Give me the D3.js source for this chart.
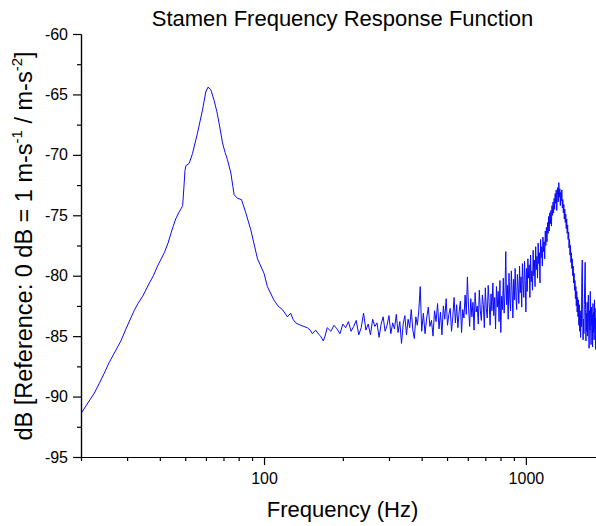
<!DOCTYPE html>
<html lang="en">
<head>
    <meta charset="UTF-8">
    <title>Stamen Frequency Response Function</title>
    <script src="https://cdnjs.cloudflare.com/ajax/libs/d3/7.8.5/d3.min.js"></script>
    <style>
        body { margin: 0; background: #fff; }
        svg text { font-family: "Liberation Sans", Arial, sans-serif; fill: #000; }
    </style>
</head>
<body>
    <svg width="596" height="526"></svg>
    <script>
        "use strict";

        // smooth part: the stamen resonance
        const lowFreq = [20, 21, 22.5, 23.5, 24.5, 25.6, 26.8, 28.4, 29.7, 31, 31.9, 33, 34.4, 36.5, 37.8, 39.2, 41.6, 43, 44.1, 45,
            46, 47.2, 48.1, 48.9, 49.5, 49.9, 50.3, 51.8, 53.3, 55.7, 58.2, 59.9, 61.1, 62.6, 64.5, 66, 67.4, 69.4, 71, 72.5,
            74.7, 76, 76.9, 79.2, 82, 85.2, 89, 94.4, 100, 103, 109, 113, 117.5, 122.8, 126.4, 129, 132, 138, 142, 146.3,
            150, 153, 157.5, 161, 164.5, 168.4, 171, 174.3];
        const lowDb = [-91.4, -90.7, -89.7, -88.9, -88.1, -87.2, -86.4, -85.4, -84.4, -83.5, -82.9, -82.3, -81.7, -80.6, -80.0, -79.2, -78.1, -77.3, -76.5, -75.9,
            -75.3, -74.8, -74.5, -74.2, -72.5, -71.3, -70.9, -70.7, -69.9, -68.2, -66.3, -64.8, -64.4, -64.6, -65.5, -66.4, -67.4, -69.0, -69.8, -70.4,
            -71.5, -72.6, -73.3, -73.6, -73.7, -74.8, -76.2, -78.6, -79.8, -80.9, -82.0, -82.5, -82.8, -83.4, -83.1, -83.6, -83.9, -84.1, -84.2, -84.3,
            -84.5, -84.8, -84.5, -84.8, -85.0, -85.4, -85.0, -84.3];

        // noisy floor, 180-400 Hz
        const floorFreq = [180, 185, 190, 195, 200, 205, 210, 215, 220, 225, 230, 235, 240, 245, 250, 255, 260, 265, 270, 275,
            280, 285, 290, 295, 300, 305, 310, 315, 320, 325, 330, 335, 340, 345, 350, 355, 360, 365, 370, 375,
            380, 385, 390, 395, 400];
        const floorDb = [-84.6, -84.1, -84.4, -84.8, -84.0, -84.3, -83.8, -84.6, -84.2, -83.7, -84.9, -84.3, -83.1, -84.5, -84.0, -84.9, -83.6, -84.2, -83.9, -85.1,
            -84.0, -83.4, -84.6, -84.1, -83.3, -84.8, -83.9, -84.4, -83.2, -84.7, -83.8, -85.6, -84.0, -83.3, -84.9, -83.6, -84.3, -82.8, -84.5, -85.2,
            -83.4, -84.1, -82.9, -80.9, -84.6];

        // rising floor, 406-1000 Hz
        const midFreq = [406, 412, 418, 424, 430, 436, 442, 448, 454, 460, 466, 472, 478, 484, 490, 496, 502, 508, 514, 520,
            526, 532, 538, 544, 550, 556, 562, 568, 574, 580, 586, 592, 598, 604, 610, 616, 622, 628, 634, 640,
            646, 652, 658, 664, 670, 676, 682, 688, 694, 700, 706, 712, 718, 724, 730, 736, 742, 748, 754, 760,
            766, 772, 778, 784, 790, 796, 802, 808, 814, 820, 826, 832, 838, 844, 850, 856, 862, 868, 874, 880,
            886, 892, 898, 904, 910, 916, 922, 928, 934, 940, 946, 952, 958, 964, 970, 976, 982, 988, 994, 1000];
        const midDb = [-83.1, -84.8, -83.5, -82.6, -84.2, -83.7, -85.0, -82.9, -83.8, -82.3, -84.4, -83.0, -84.9, -82.5, -83.6, -81.9, -84.1, -83.2, -82.7, -84.6,
            -83.4, -81.8, -83.9, -82.4, -84.3, -83.0, -82.1, -84.7, -82.8, -83.5, -81.6, -83.2, -80.1, -82.6, -84.2, -81.9, -83.4, -82.2, -84.5, -81.4,
            -83.0, -82.5, -84.0, -81.2, -82.9, -83.7, -81.6, -82.4, -84.3, -81.0, -82.7, -83.5, -80.8, -82.2, -84.1, -81.5, -82.9, -80.6, -83.3, -81.8,
            -84.4, -80.9, -82.6, -81.3, -83.8, -80.4, -84.7, -81.7, -82.8, -80.2, -83.1, -81.5, -78.0, -82.4, -80.8, -83.6, -79.8, -81.9, -82.9, -79.6,
            -81.2, -83.5, -80.3, -82.0, -79.4, -81.6, -82.8, -79.9, -80.9, -82.3, -79.2, -81.4, -80.1, -82.6, -79.0, -80.7, -81.8, -78.8, -80.4, -83.0];

        // second resonance and the tail, 1006-2002 Hz
        const highFreq = [1006, 1012, 1018, 1024, 1030, 1036, 1042, 1048, 1054, 1060, 1066, 1072, 1078, 1084, 1090, 1096,
            1102, 1108, 1114, 1120, 1126, 1132, 1138, 1144, 1150, 1156, 1162, 1168, 1174, 1180, 1186, 1192, 1198,
            1204, 1210, 1216, 1222, 1228, 1234, 1240, 1246, 1252, 1258, 1264, 1270, 1276, 1282,
            1288, 1294, 1300, 1306, 1312, 1318, 1324, 1330, 1336, 1342, 1348, 1354, 1360, 1366, 1372, 1378,
            1384, 1390, 1396, 1402, 1408, 1414, 1420, 1426, 1432, 1438, 1444, 1450,
            1456, 1462, 1468, 1474, 1480, 1486, 1492, 1498, 1504, 1510, 1516, 1522,
            1528, 1534, 1540, 1546, 1552, 1558, 1564, 1570, 1576, 1582, 1588, 1594, 1600,
            1606, 1612, 1618, 1624, 1630, 1636, 1642, 1648, 1654, 1660, 1666, 1672, 1678, 1684, 1690, 1696, 1702, 1708, 1714, 1720,
            1726, 1732, 1738, 1744, 1750, 1756, 1762, 1768, 1774, 1780, 1786, 1792, 1798, 1804, 1810, 1816, 1822, 1828, 1834, 1840,
            1846, 1852, 1858, 1864, 1870, 1876, 1882, 1888, 1894, 1900, 1906, 1912, 1918, 1924, 1930, 1936, 1942, 1948, 1954, 1960,
            1966, 1972, 1978, 1984, 1990, 1996, 2002];
        const highDb = [-79.4, -81.3, -78.6, -80.2, -79.1, -81.8, -78.3, -80.5, -79.6, -81.2, -77.9, -80.0, -78.7, -80.9, -77.6, -79.5,
            -78.4, -80.2, -77.3, -79.0, -78.1, -80.6, -77.0, -78.5, -77.6, -79.2, -76.8, -78.0, -77.2, -78.6, -76.3, -77.5, -76.0,
            -77.2, -75.6, -76.5, -75.1, -76.3, -74.8, -75.7, -74.6, -75.9, -74.2, -75.0, -73.9, -74.8, -73.6,
            -74.5, -73.2, -74.0, -72.9, -74.6, -73.4, -72.7, -73.9, -72.3, -73.5, -72.8, -74.2, -73.1, -73.8, -72.9, -74.4,
            -73.7, -74.8, -74.1, -75.3, -74.5, -75.6, -74.9, -76.1, -75.3, -76.5, -75.8, -77.0,
            -76.4, -77.7, -77.0, -78.3, -77.5, -78.9, -78.1, -79.4, -78.6, -80.0, -79.2, -80.6,
            -79.8, -81.2, -80.4, -81.9, -80.9, -82.5, -81.3, -83.0, -81.8, -83.4, -82.0, -84.1, -82.4,
            -84.6, -82.9, -85.1, -83.3, -84.2, -79.9, -78.7, -83.0, -85.3, -83.6, -84.8, -82.4, -80.6, -78.9, -82.8, -85.4, -83.1, -84.6, -82.2, -85.0,
            -83.7, -81.6, -84.3, -86.0, -82.9, -84.5, -81.3, -83.8, -85.7, -82.6, -84.1, -83.2, -85.9, -82.3, -84.7, -83.0, -85.3, -82.0, -84.4, -83.5,
            -86.1, -82.7, -84.0, -83.3, -85.5, -82.5, -84.8, -83.6, -85.0, -82.8, -84.2, -83.4, -85.6, -82.6, -84.5, -83.1, -85.2, -83.8, -84.6, -82.9,
            -85.4, -83.5, -84.3, -82.7, -85.0, -83.9, -84.4];

        const yMajor = [-95, -90, -85, -80, -75, -70, -65, -60];
        const yMinor = [-92.5, -87.5, -82.5, -77.5, -72.5, -67.5, -62.5];
        const xMajor = [100, 1000];
        const xMinor = [20, 30, 40, 50, 60, 70, 80, 90, 200, 300, 400, 500, 600, 700, 800, 900, 2000];

        const svg = d3.select("svg");

        const x = d3.scaleLog().domain([20, 2000]).range([81, 604.7]);
        const y = d3.scaleLinear().domain([-95, -60]).range([457, 34]);

        const pairs = (fs, dbs) => fs.map((f, i) => [f, dbs[i]]);
        const points = [].concat(
            pairs(lowFreq, lowDb),
            pairs(floorFreq, floorDb),
            pairs(midFreq, midDb),
            pairs(highFreq, highDb)
        );

        svg.append("defs").append("clipPath").attr("id", "plot")
            .append("rect").attr("x", 81).attr("y", 34).attr("width", 530).attr("height", 423);

        const line = d3.line().x(d => x(d[0])).y(d => y(d[1]));

        svg.append("path")
            .datum(points)
            .attr("clip-path", "url(#plot)")
            .attr("fill", "none")
            .attr("stroke", "#0a0aff")
            .attr("stroke-width", 1)
            .attr("stroke-linejoin", "round")
            .attr("d", line);

        // axes, minor ticks drawn as separate axes without labels
        svg.append("g").attr("transform", "translate(0,457)")
            .call(d3.axisBottom(x).tickValues(xMinor).tickSize(4).tickSizeOuter(0).tickFormat(""));
        svg.append("g").attr("transform", "translate(0,457)")
            .call(d3.axisBottom(x).tickValues(xMajor).tickSize(8).tickSizeOuter(0).tickPadding(8).tickFormat(d => String(d)));

        svg.append("g").attr("transform", "translate(81,0)")
            .call(d3.axisLeft(y).tickValues(yMinor).tickSize(4).tickSizeOuter(0).tickFormat(""));
        svg.append("g").attr("transform", "translate(81,0)")
            .call(d3.axisLeft(y).tickValues(yMajor).tickSize(8).tickSizeOuter(0).tickPadding(5).tickFormat(d => String(d)));

        svg.selectAll(".domain, .tick line").attr("stroke", "#000").attr("stroke-width", 1.2);
        svg.selectAll(".tick text").attr("font-size", 16).attr("font-family", "'Liberation Sans', Arial, sans-serif").attr("fill", "#000");

        // labels
        svg.append("text")
            .attr("x", 342.5).attr("y", 26)
            .attr("text-anchor", "middle")
            .attr("font-size", 22)
            .text("Stamen Frequency Response Function");

        svg.append("text")
            .attr("x", 342.5).attr("y", 517)
            .attr("text-anchor", "middle")
            .attr("font-size", 22)
            .text("Frequency (Hz)");

        const yLabel = svg.append("text")
            .attr("transform", "translate(32,246) rotate(-90)")
            .attr("text-anchor", "middle")
            .attr("font-size", 23.5);
        yLabel.append("tspan").text("dB [Reference: 0 dB = 1 m-s");
        yLabel.append("tspan").attr("dy", -10).attr("font-size", 15).text("-1");
        yLabel.append("tspan").attr("dy", 10).text(" / m-s");
        yLabel.append("tspan").attr("dy", -10).attr("font-size", 15).text("-2");
        yLabel.append("tspan").attr("dy", 10).text("]");
    </script>
</body>
</html>
